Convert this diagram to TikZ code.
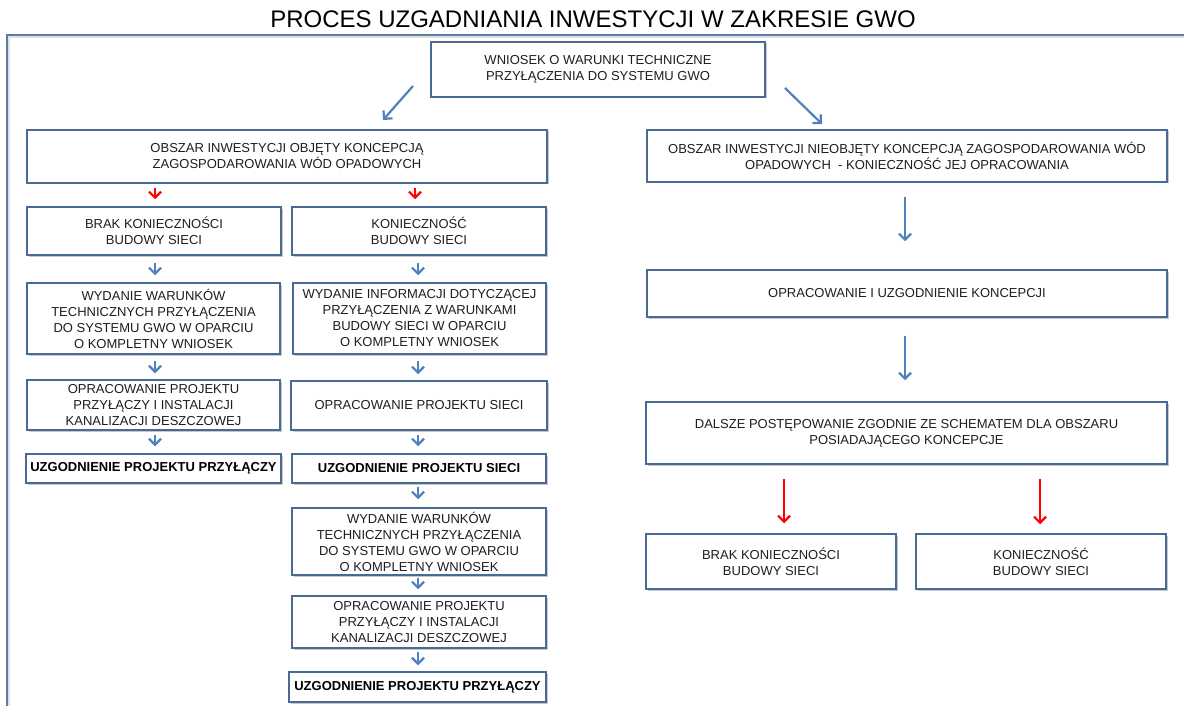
\documentclass[tikz,border=0pt]{standalone}
\usepackage{fontspec}
\setmainfont{Liberation Sans}
\usetikzlibrary{arrows.meta,shadows}
\definecolor{boxline}{HTML}{4A6A96}
\definecolor{arrblue}{HTML}{4F81BD}
\definecolor{txt}{HTML}{1E1E1E}
\definecolor{frameline}{HTML}{5B7BA8}
\begin{document}
\begin{tikzpicture}[x=1pt,y=-1pt,
  font=\fontsize{13}{16}\selectfont,
  box/.style={draw=boxline, line width=1.5pt, fill=white, align=center,
    inner sep=0pt, text=txt,
    drop shadow={shadow xshift=1.5pt, shadow yshift=-1.5pt, fill=black, opacity=0.22}},
  bold/.style={font=\fontsize{13}{16}\selectfont\bfseries, text=black},
  blarr/.style={draw=arrblue, line width=2.2pt, -{Straight Barb[length=6pt,width=12pt]}},
  redarr/.style={draw=red, line width=2.2pt, -{Straight Barb[length=6pt,width=12pt]}}]
\useasboundingbox (0,0) rectangle (1184,706);
\fill[white] (0,0) rectangle (1184,706);
% title and frame
\node[font=\fontsize{24}{28}\selectfont, text=black, anchor=base, inner sep=0pt] (title) at (593,28) {PROCES UZGADNIANIA INWESTYCJI W ZAKRESIE GWO};
\draw[black!12, line width=2pt] (9,708) -- (9,37.5) -- (1184,37.5);
\draw[frameline, line width=1.8pt] (7,708) -- (7,35) -- (1184,35);
% boxes
\node[box, minimum width=334, minimum height=55] (A) at (598,69.5) {WNIOSEK O WARUNKI TECHNICZNE\\PRZYŁĄCZENIA DO SYSTEMU GWO};
\node[box, minimum width=520, minimum height=53] (B) at (287,156.5) {OBSZAR INWESTYCJI OBJĘTY KONCEPCJĄ\\ZAGOSPODAROWANIA WÓD OPADOWYCH};
\node[box, minimum width=520, minimum height=52] (C) at (907,156) {OBSZAR INWESTYCJI NIEOBJĘTY KONCEPCJĄ ZAGOSPODAROWANIA WÓD\\OPADOWYCH\ \ - KONIECZNOŚĆ JEJ OPRACOWANIA};
\node[box, minimum width=254, minimum height=48] (D) at (154,231) {BRAK KONIECZNOŚCI\\BUDOWY SIECI};
\node[box, minimum width=254, minimum height=48] (E) at (419,231) {KONIECZNOŚĆ\\BUDOWY SIECI};
\node[box, minimum width=253, minimum height=71] (F) at (153.5,318.5) {WYDANIE WARUNKÓW\\TECHNICZNYCH PRZYŁĄCZENIA\\DO SYSTEMU GWO W OPARCIU\\O KOMPLETNY WNIOSEK};
\node[box, minimum width=253, minimum height=71] (G) at (419.5,318.5) {WYDANIE INFORMACJI DOTYCZĄCEJ\\PRZYŁĄCZENIA Z WARUNKAMI\\BUDOWY SIECI W OPARCIU\\O KOMPLETNY WNIOSEK};
\node[box, minimum width=253, minimum height=50] (H) at (153.5,405) {OPRACOWANIE PROJEKTU\\PRZYŁĄCZY I INSTALACJI\\KANALIZACJI DESZCZOWEJ};
\node[box, minimum width=256, minimum height=49] (I) at (419,405.5) {OPRACOWANIE PROJEKTU SIECI};
\node[box, bold, minimum width=255, minimum height=29] (J) at (153.5,468.5) {UZGODNIENIE PROJEKTU PRZYŁĄCZY};
\node[box, bold, minimum width=254, minimum height=29] (K) at (419,468.5) {UZGODNIENIE PROJEKTU SIECI};
\node[box, minimum width=254, minimum height=67] (L) at (419,541.5) {WYDANIE WARUNKÓW\\TECHNICZNYCH PRZYŁĄCZENIA\\DO SYSTEMU GWO W OPARCIU\\O KOMPLETNY WNIOSEK};
\node[box, minimum width=254, minimum height=52] (M) at (419,622) {OPRACOWANIE PROJEKTU\\PRZYŁĄCZY I INSTALACJI\\KANALIZACJI DESZCZOWEJ};
\node[box, bold, minimum width=257, minimum height=30] (N) at (417.5,687) {UZGODNIENIE PROJEKTU PRZYŁĄCZY};
\node[box, minimum width=520, minimum height=47] (O) at (907,293.5) {OPRACOWANIE I UZGODNIENIE KONCEPCJI};
\node[box, minimum width=521, minimum height=62] (P) at (906.5,433) {DALSZE POSTĘPOWANIE ZGODNIE ZE SCHEMATEM DLA OBSZARU\\POSIADAJĄCEGO KONCEPCJE};
\node[box, minimum width=250, minimum height=55] (Q) at (771,561.5) {BRAK KONIECZNOŚCI\\BUDOWY SIECI};
\node[box, minimum width=250, minimum height=55] (R) at (1041,561.5) {KONIECZNOŚĆ\\BUDOWY SIECI};
% diagonal arrows
\coordinate (a1) at (413,86);
\coordinate (a2) at (383,120);
\coordinate (a3) at (785,88);
\coordinate (a4) at (822,124);
\draw[blarr] (a1) -- (a2);
\draw[blarr] (a3) -- (a4);
% left column arrows
\draw[redarr, shorten <=4pt, shorten >=7pt] (B.south -| 155,0) -- (D.north -| 155,0);
\draw[redarr, shorten <=4pt, shorten >=7pt] (B.south -| 415,0) -- (E.north -| 415,0);
\draw[blarr, shorten <=7pt, shorten >=7pt] (D.south -| 155,0) -- (F.north -| 155,0);
\draw[blarr, shorten <=7pt, shorten >=7pt] (E.south -| 418,0) -- (G.north -| 418,0);
\draw[blarr, shorten <=6pt, shorten >=6pt] (F.south -| 155,0) -- (H.north -| 155,0);
\draw[blarr, shorten <=6pt, shorten >=6pt] (G.south -| 418,0) -- (I.north -| 418,0);
\draw[blarr, shorten <=4pt, shorten >=7pt] (H.south -| 155,0) -- (J.north -| 155,0);
\draw[blarr, shorten <=4pt, shorten >=7pt] (I.south -| 418,0) -- (K.north -| 418,0);
\draw[blarr, shorten <=3pt, shorten >=8pt] (K.south -| 418,0) -- (L.north -| 418,0);
\draw[blarr, shorten <=2pt, shorten >=6pt] (L.south -| 418,0) -- (M.north -| 418,0);
\draw[blarr, shorten <=3pt, shorten >=6pt] (M.south -| 418,0) -- (N.north -| 418,0);
% right column arrows
\draw[blarr, shorten <=14pt, shorten >=28pt] (C.south -| 905,0) -- (O.north -| 905,0);
\draw[blarr, shorten <=18pt, shorten >=21pt] (O.south -| 905,0) -- (P.north -| 905,0);
\draw[redarr, shorten <=14pt, shorten >=10pt] (P.south -| 784,0) -- (Q.north -| 784,0);
\draw[redarr, shorten <=14pt, shorten >=9pt] (P.south -| 1040,0) -- (R.north -| 1040,0);
\end{tikzpicture}
\end{document}
